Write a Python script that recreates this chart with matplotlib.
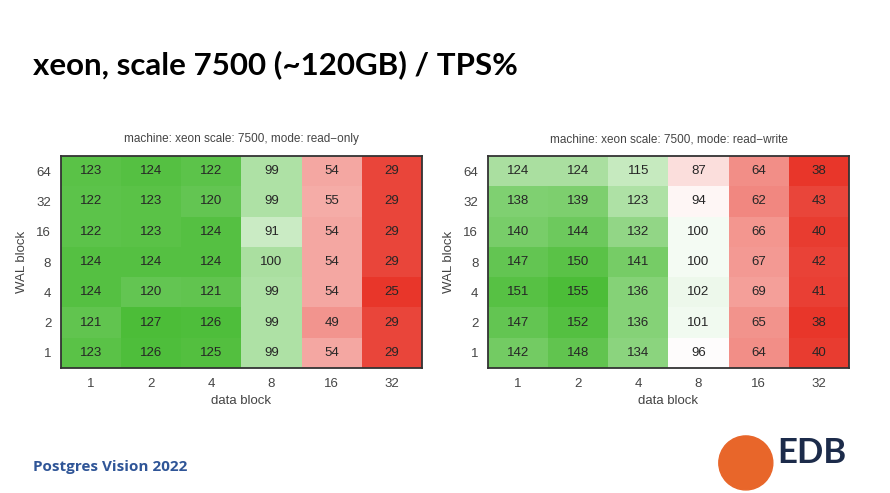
import numpy as np
import matplotlib
matplotlib.use("Agg")
from matplotlib import pyplot as plt
from matplotlib.colors import LinearSegmentedColormap, Normalize
import matplotlib.patches as mpatches

data_block = ["1", "2", "4", "8", "16", "32"]
wal_block = ["64", "32", "16", "8", "4", "2", "1"]   # top to bottom

read_only = [
    [123, 124, 122, 99, 54, 29],
    [122, 123, 120, 99, 55, 29],
    [122, 123, 124, 91, 54, 29],
    [124, 124, 124, 100, 54, 29],
    [124, 120, 121, 99, 54, 25],
    [121, 127, 126, 99, 49, 29],
    [123, 126, 125, 99, 54, 29],
]

read_write = [
    [124, 124, 115, 87, 64, 38],
    [138, 139, 123, 94, 62, 43],
    [140, 144, 132, 100, 66, 40],
    [147, 150, 141, 100, 67, 42],
    [151, 155, 136, 102, 69, 41],
    [147, 152, 136, 101, 65, 38],
    [142, 148, 134, 96, 64, 40],
]

cmap = LinearSegmentedColormap.from_list("rwg", ["#e8362a", "#ffffff", "#4cbd38"])

fig = plt.figure(figsize=(8.9, 4.93), dpi=100)
fig.patch.set_facecolor("white")

fig.text(0.037, 0.85, "xeon, scale 7500 (~120GB) / TPS%", fontsize=22.5,
         fontweight="bold", family="Lato", color="black", va="baseline")
fig.text(0.037, 0.045, "Postgres Vision 2022", fontsize=11, fontweight="bold",
         family="Open Sans", color="#2f5597", va="baseline")

# EDB logo (partly)
fig.patches.append(mpatches.Ellipse((0.838, 0.061), 2 * 27 / 890, 2 * 27 / 493,
                                    transform=fig.transFigure,
                                    color="#e8662a", zorder=1))
fig.text(0.873, 0.06, "EDB", fontsize=25, fontweight="bold", family="Lato",
         color="#1c2b4a", va="baseline")


def heatmap(pos, values, title):
    ax = fig.add_axes(pos)
    vals = np.array(values)
    norm = Normalize(vmin=vals.min(), vmax=vals.max())
    ax.imshow(vals, cmap=cmap, norm=norm, aspect="auto")
    for i in range(vals.shape[0]):
        for j in range(vals.shape[1]):
            ax.text(j, i, str(vals[i, j]), ha="center", va="center",
                    fontsize=9.5, color="#262626", family="Liberation Sans")
    ax.set_xticks(range(len(data_block)))
    ax.set_xticklabels(data_block, fontsize=9.5, color="#444444", family="Liberation Sans")
    ax.set_yticks(range(len(wal_block)))
    ax.set_yticklabels(wal_block, fontsize=9.5, color="#444444", family="Liberation Sans")
    ax.tick_params(length=0, pad=7)
    ax.set_xlabel("data block", fontsize=9.5, color="#444444",
                  family="Liberation Sans", labelpad=4)
    ax.set_ylabel("WAL block", fontsize=9.5, color="#444444",
                  family="Liberation Sans", labelpad=6)
    ax.set_title(title, fontsize=8.5, color="#444444", family="Liberation Sans", pad=10)
    for s in ax.spines.values():
        s.set_color("#333333")
        s.set_linewidth(1.3)
    return ax


heatmap([0.0685, 0.2535, 0.4056, 0.4300], read_only,
        "machine: xeon scale: 7500, mode: read\u2212only")
heatmap([0.5483, 0.2535, 0.4056, 0.4300], read_write,
        "machine: xeon scale: 7500, mode: read\u2212write")

plt.savefig("out.png", dpi=100)
